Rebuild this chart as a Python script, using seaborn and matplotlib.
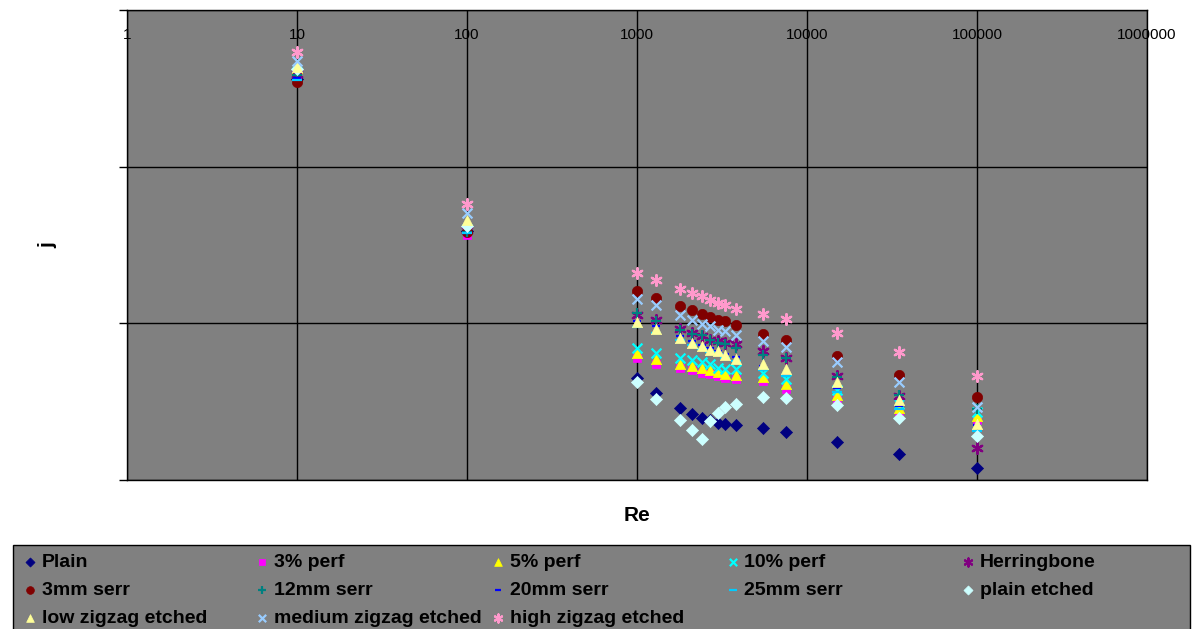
import matplotlib

matplotlib.use("Agg")

import matplotlib.pyplot as plt
import matplotlib.ticker as mticker
from matplotlib.patches import Rectangle
import pandas as pd
import seaborn as sns

# Reynolds numbers shared by every series
RE = [10, 100, 1000, 1300, 1800, 2100, 2400, 2700, 3000, 3300, 3800,
      5500, 7500, 15000, 35000, 100000]

plain = [0.362, 0.0389, 0.0045, 0.00359, 0.0029, 0.00263, 0.0025, 0.0024,
         0.00232, 0.00229, 0.00226, 0.00215, 0.00202, 0.00175, 0.00147, 0.0012]
perf3 = [0.375, 0.0366, 0.0060, 0.00553, 0.00522, 0.00501, 0.00482, 0.00473,
         0.00461, 0.0045, 0.00439, 0.00426, 0.00383, 0.00331, 0.00276, 0.0024]
perf5 = [0.426, 0.0444, 0.00646, 0.00595, 0.00553, 0.00531, 0.00522, 0.00501,
         0.00489, 0.00478, 0.00466, 0.00454, 0.00412, 0.00347, 0.00287, 0.00255]
perf10 = [0.402, 0.040, 0.0070, 0.00646, 0.00604, 0.0058, 0.00566, 0.00553,
          0.00522, 0.00514, 0.00514, 0.00482, 0.00444, 0.00377, 0.00304, 0.00272]
herring = [0.390, 0.0394, 0.01125, 0.01045, 0.00925, 0.00867, 0.00826, 0.00787,
           0.00767, 0.00745, 0.00742, 0.00663, 0.00604, 0.00459, 0.00342, 0.00161]
serr3 = [0.348, 0.0383, 0.0160, 0.0145, 0.01284, 0.01211, 0.01153, 0.01097,
         0.01056, 0.0103, 0.00971, 0.0086, 0.00779, 0.00616, 0.00471, 0.00339]
serr12 = [0.385, 0.0385, 0.01163, 0.01034, 0.00902, 0.00851, 0.00838, 0.00779,
          0.00749, 0.00734, 0.0070, 0.00625, 0.00598, 0.00454, 0.00347, 0.00283]
serr20 = [0.368, 0.0377, 0.0104, 0.0096, 0.00826, 0.00767, 0.00724, 0.00692,
          0.00663, 0.00634, 0.00609, 0.00531, 0.00473, 0.00384, 0.00295, 0.00223]
serr25 = [0.357, 0.038, 0.00947, 0.00863, 0.00779, 0.00724, 0.00683, 0.00653,
          0.00634, 0.00598, 0.00572, 0.00501, 0.00459, 0.00364, 0.00283, 0.00205]
plain_etched = [0.418, 0.0418, 0.0042, 0.00329, 0.00243, 0.00207, 0.00184, 0.00237,
                0.00268, 0.00292, 0.00307, 0.00339, 0.00334, 0.0030, 0.0025, 0.0019]
low_zz = [0.4346, 0.0457, 0.0102, 0.00925, 0.0081, 0.00753, 0.00713, 0.00679,
          0.00666, 0.00625, 0.00595, 0.00553, 0.00514, 0.00422, 0.00323, 0.00229]
med_zz = [0.4725, 0.0508, 0.01438, 0.01303, 0.01137, 0.01056, 0.00996, 0.00961,
          0.00912, 0.00889, 0.00838, 0.00767, 0.00706, 0.00566, 0.00422, 0.00292]
high_zz = [0.537, 0.0578, 0.0209, 0.0190, 0.01665, 0.0157, 0.01487, 0.01417,
           0.01356, 0.01316, 0.01228, 0.01153, 0.01072, 0.00867, 0.00656, 0.00459]

X_TICKS = [1, 10, 100, 1000, 10000, 100000, 1000000]
X_TICK_LABELS = ["1", "10", "100", "1000", "10000", "100000", "1000000"]

ASTERISK = (6, 2, 0)

# (label, values, marker, colour, size)
series = [
    ("Plain", plain, "D", "#000080", 38),
    ("3% perf", perf3, "s", "#FF00FF", 40),
    ("5% perf", perf5, "^", "#FFFF00", 55),
    ("10% perf", perf10, "x", "#00FFFF", 50),
    ("Herringbone", herring, ASTERISK, "#800080", 60),
    ("3mm serr", serr3, "o", "#800000", 55),
    ("12mm serr", serr12, "+", "#008080", 60),
    ("20mm serr", serr20, "_", "#0000FF", 40),
    ("25mm serr", serr25, "_", "#00CCFF", 60),
    ("plain etched", plain_etched, "D", "#CCFFFF", 38),
    ("low zigzag etched", low_zz, "^", "#FFFF99", 55),
    ("medium zigzag etched", med_zz, "x", "#99CCFF", 50),
    ("high zigzag etched", high_zz, ASTERISK, "#FF99CC", 60),
]

sns.set_theme(style="ticks")
plt.rcParams["font.family"] = ["Liberation Sans", "DejaVu Sans"]
plt.rcParams["text.color"] = "black"
plt.rcParams["axes.labelcolor"] = "black"

W, H = 1197, 629
fig = plt.figure(figsize=(W / 100, H / 100), dpi=100)
ax = fig.add_axes([127 / W, 1 - 480 / H, 1020 / W, 470 / H])
ax.set_facecolor("#808080")

for label, vals, marker, color, size in series:
    df = pd.DataFrame({"Re": RE, "j": vals})
    filled = marker not in ("x", "+", "_", ASTERISK)
    kws = dict(edgecolor=color, linewidth=0.5) if filled else dict(linewidth=1.6)
    sns.scatterplot(data=df, x="Re", y="j", ax=ax, marker=marker, color=color,
                    s=size, label=label, legend=False, zorder=3, **kws)

ax.set_xscale("log")
ax.set_yscale("log")
ax.set_xlim(1, 1000000)
ax.set_ylim(0.001, 1)

ax.xaxis.set_major_locator(mticker.FixedLocator(X_TICKS))
ax.xaxis.set_major_formatter(mticker.FixedFormatter(X_TICK_LABELS))
ax.xaxis.set_minor_locator(mticker.NullLocator())
ax.yaxis.set_major_locator(mticker.FixedLocator([0.001, 0.01, 0.1, 1]))
ax.yaxis.set_minor_locator(mticker.NullLocator())
ax.yaxis.set_major_formatter(mticker.NullFormatter())

ax.grid(True, which="major", color="black", linewidth=1)
ax.set_axisbelow(True)
for sp in ax.spines.values():
    sp.set_color("black")
    sp.set_linewidth(1)
    sp.set_visible(True)

ax.tick_params(axis="x", which="both", top=True, bottom=False, labeltop=True,
               labelbottom=False, length=0, pad=-23, labelsize=11,
               labelcolor="black", color="black")
ax.tick_params(axis="y", which="major", left=True, length=6, width=1, color="black")

ax.set_xlabel("Re", fontsize=15, fontweight="bold", color="black")
ax.xaxis.set_label_position("bottom")
ax.xaxis.set_label_coords(0.5, -0.056)
ax.set_ylabel("j", fontsize=15, fontweight="bold", color="black")
ax.yaxis.set_label_coords(-0.068, 0.5)

# legend: grey box with five fixed-width columns, filled row by row
fig.add_artist(Rectangle((13 / W, -0.02), 1177 / W, 1 - 545 / H + 0.02,
                         transform=fig.transFigure, facecolor="#808080",
                         edgecolor="black", linewidth=1, zorder=0))

handles, labels = ax.get_legend_handles_labels()
col_x = [30, 262, 498, 733, 968]
for c, mx in enumerate(col_x):
    idx = list(range(c, len(handles), 5))
    leg = fig.legend([handles[i] for i in idx], [labels[i] for i in idx],
                     loc="upper left", bbox_to_anchor=((mx - 6) / W, 1 - 553 / H),
                     prop={"family": ["Liberation Sans", "DejaVu Sans"],
                           "weight": "bold", "size": 14},
                     frameon=False, markerscale=0.75, handlelength=0.6,
                     handletextpad=0.3, labelspacing=0.55, borderaxespad=0,
                     borderpad=0, labelcolor="black")

fig.savefig("out.png", dpi=100)
